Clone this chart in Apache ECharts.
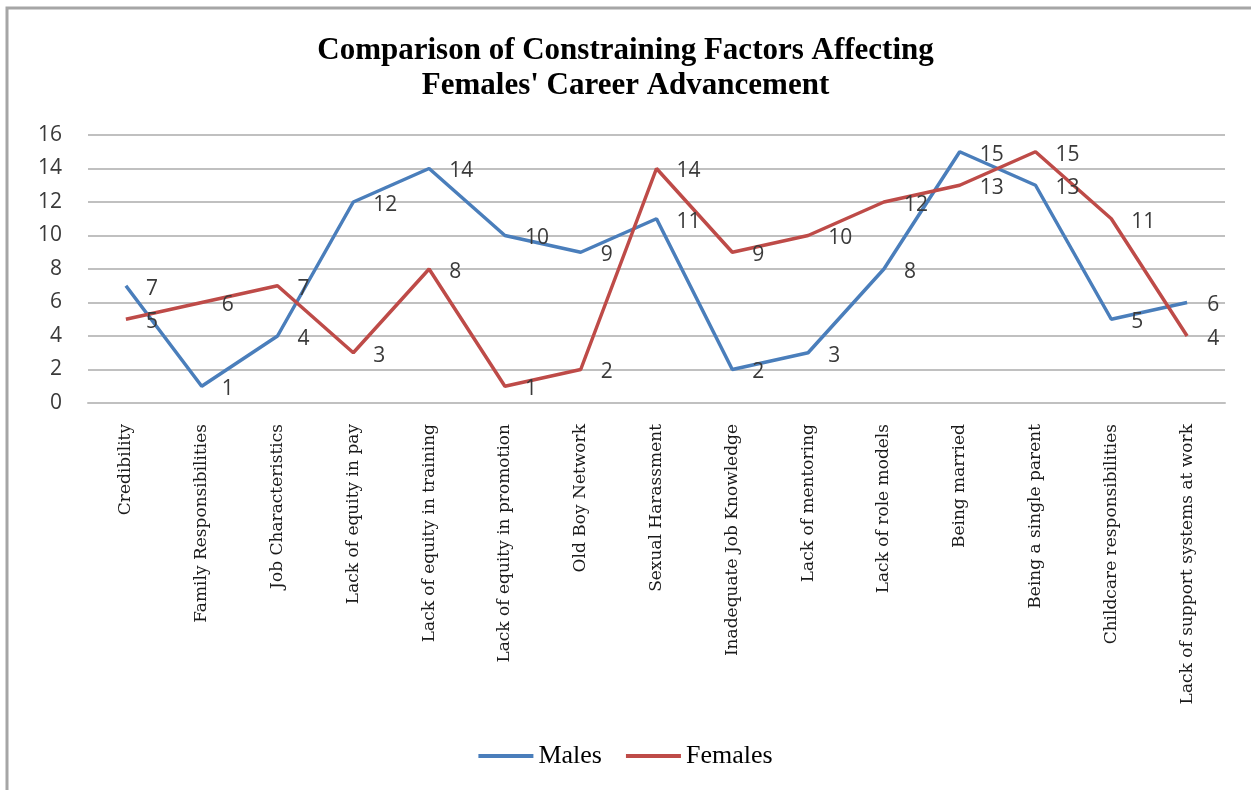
<!DOCTYPE html>
<html>
<head>
<meta charset="utf-8">
<script src="https://cdn.jsdelivr.net/npm/echarts@6/dist/echarts.min.js"></script>
<style>html,body{margin:0;padding:0;background:#fff}#c{width:1251px;height:790px}</style>
</head>
<body>
<div id="c"></div>
<script>
const categories = ["Credibility","Family Responsibilities","Job Characteristics","Lack of equity in pay","Lack of equity in training","Lack of equity in promotion","Old Boy Network","Sexual Harassment","Inadequate Job Knowledge","Lack of mentoring","Lack of role models","Being married","Being a single parent","Childcare responsibilities","Lack of support systems at work"];
const males = [7,1,4,12,14,10,9,11,2,3,8,15,13,5,6];
const females = [5,6,7,3,8,1,2,14,9,10,12,13,15,11,4];
const yTicks = {min:0, max:16, interval:2};

const chart = echarts.init(document.getElementById('c'));
const labelStyle = {show:true, position:'right', distance:20, offset:[0,3], color:'#3a3a3a', fontSize:21, fontFamily:'Open Sans'};
chart.setOption({
  animation:false,
  backgroundColor:'#fff',
  graphic:[{type:'rect', shape:{x:7,y:8,width:1250,height:800}, style:{fill:'none', stroke:'#a6a6a6', lineWidth:3}}],
  title:{text:"Comparison of Constraining Factors Affecting\nFemales' Career Advancement", left:'center', top:28,
    textStyle:{fontFamily:'Liberation Serif', fontWeight:'bold', fontSize:31, lineHeight:35, color:'#000'}},
  grid:{left:88, right:26, top:135, bottom:387, containLabel:false},
  legend:{bottom:16, left:'center', itemWidth:55, itemHeight:4, itemGap:24, icon:'rect',
    textStyle:{fontFamily:'Liberation Serif', fontSize:26, color:'#000'}, data:['Males','Females']},
  xAxis:{type:'category', data:categories, boundaryGap:true,
    axisLine:{show:true, lineStyle:{color:'#c0c0c0', width:2}}, axisTick:{show:false},
    axisLabel:{rotate:90, interval:0, margin:21, fontFamily:'DejaVu Serif', fontSize:17, color:'#1a1a1a'}},
  yAxis:{type:'value', min:yTicks.min, max:yTicks.max, interval:yTicks.interval,
    axisLine:{show:false}, axisTick:{show:false},
    splitLine:{lineStyle:{color:'#c0c0c0', width:2}},
    axisLabel:{margin:26, fontFamily:'Open Sans', fontSize:21, color:'#3a3a3a'}},
  series:[
    {name:'Males', type:'line', data:males, symbol:'circle', symbolSize:0.1, showSymbol:true, lineStyle:{color:'#4a7ebb', width:3.5}, itemStyle:{color:'#4a7ebb'}, label:labelStyle},
    {name:'Females', type:'line', data:females, symbol:'circle', symbolSize:0.1, showSymbol:true, lineStyle:{color:'#be4b48', width:3.5}, itemStyle:{color:'#be4b48'}, label:labelStyle}
  ]
});
</script>
</body>
</html>
